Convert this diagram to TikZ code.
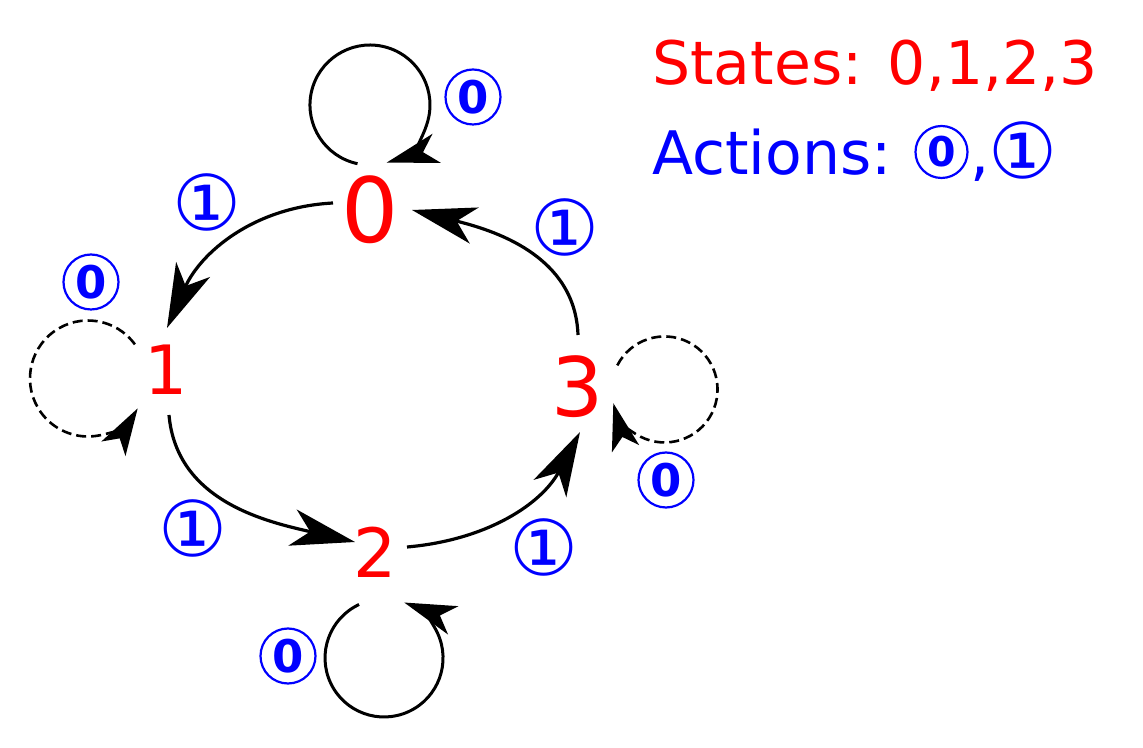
\documentclass[tikz,border=0pt]{standalone}
\usepackage{fontspec}
\setmainfont{DejaVu Sans}
\usetikzlibrary{arrows.meta}
\definecolor{stred}{RGB}{255,0,0}
\definecolor{actblue}{RGB}{0,0,255}
\tikzset{
  state/.style={inner sep=0pt, text=stred},
  act/.style={inner sep=0pt, text=actblue, font=\fontsize{77}{77}\selectfont},
  zact/.style={circle, draw=actblue, line width=2.2pt, inner sep=0pt, minimum size=55pt,
    text=actblue, font=\bfseries\fontsize{45}{45}\selectfont},
  edge/.style={line width=3.2pt, -{Stealth[length=64pt,width=37pt,inset=18pt]}},
  selfloop/.style={line width=3pt, -{Stealth[length=52pt,width=30pt,inset=14pt]}},
  dselfloop/.style={line width=2.6pt, dash pattern=on 10pt off 5pt, -{Stealth[length=47pt,width=28pt,inset=12pt]}},
  legend/.style={inner sep=0pt, anchor=base west, font=\fontsize{60}{60}\selectfont}
}
\begin{document}
\begin{tikzpicture}[x=1pt,y=1pt]
\useasboundingbox (0,0) rectangle (1143,747);
% states
\node[state, font=\fontsize{90}{90}\selectfont] (n0) at (370,537) {0};
\node[state, font=\fontsize{68}{68}\selectfont] (n1) at (166,377) {1};
\node[state, font=\fontsize{68}{68}\selectfont] (n2) at (375,195) {2};
\node[state, font=\fontsize{82}{82}\selectfont] (n3) at (578,360) {3};
% transitions under action 1
\draw[edge] ([shift={(-37,7)}]n0.center) to[out=183,in=66] ([shift={(1,42)}]n1.center);
\draw[edge] ([shift={(3,-45)}]n1.center) to[out=-85,in=167] ([shift={(-20,10)}]n2.center);
\draw[edge] ([shift={(32,5)}]n2.center) to[out=5,in=242] ([shift={(2,-45)}]n3.center);
\draw[edge] ([shift={(0,52)}]n3.center) to[out=92,in=-14] ([shift={(42,0)}]n0.center);
% self loops under action 0
\coordinate (L0) at (357.5,583.3);
\coordinate (L1) at (134.9,402.6);
\coordinate (L2) at (359.1,142.5);
\coordinate (L3) at (617.3,381.6);
\draw[selfloop] (L0) arc[start angle=258, end angle=-74, radius=60pt];
\draw[dselfloop] (L1) arc[start angle=36, end angle=329, radius=58pt];
\draw[selfloop] (L2) arc[start angle=115, end angle=430, radius=59pt];
\draw[dselfloop] (L3) arc[start angle=153, end angle=-165, radius=53pt];
% action labels
\node[zact] (a0) at (473,650) {0};
\node[zact] (a1) at (91,465) {0};
\node[zact] (a2) at (288,91) {0};
\node[zact] (a3) at (666,267) {0};
\node[act] (e01) at (207,545) {①};
\node[act] (e12) at (193,219) {①};
\node[act] (e23) at (544,200) {①};
\node[act] (e30) at (565,520) {①};
% legend
\node[legend, text=stred] (ls) at (652,662) {States: 0,1,2,3};
\node[legend, text=actblue] (la) at (652,572) {Actions:};
\node[zact, minimum size=52pt, font=\bfseries\fontsize{41}{41}\selectfont] (lz) at (941.5,595) {0};
\node[legend, text=actblue] (lc) at (970,572) {,};
\node[act] (lo) at (1023,597) {①};
\end{tikzpicture}
\end{document}
